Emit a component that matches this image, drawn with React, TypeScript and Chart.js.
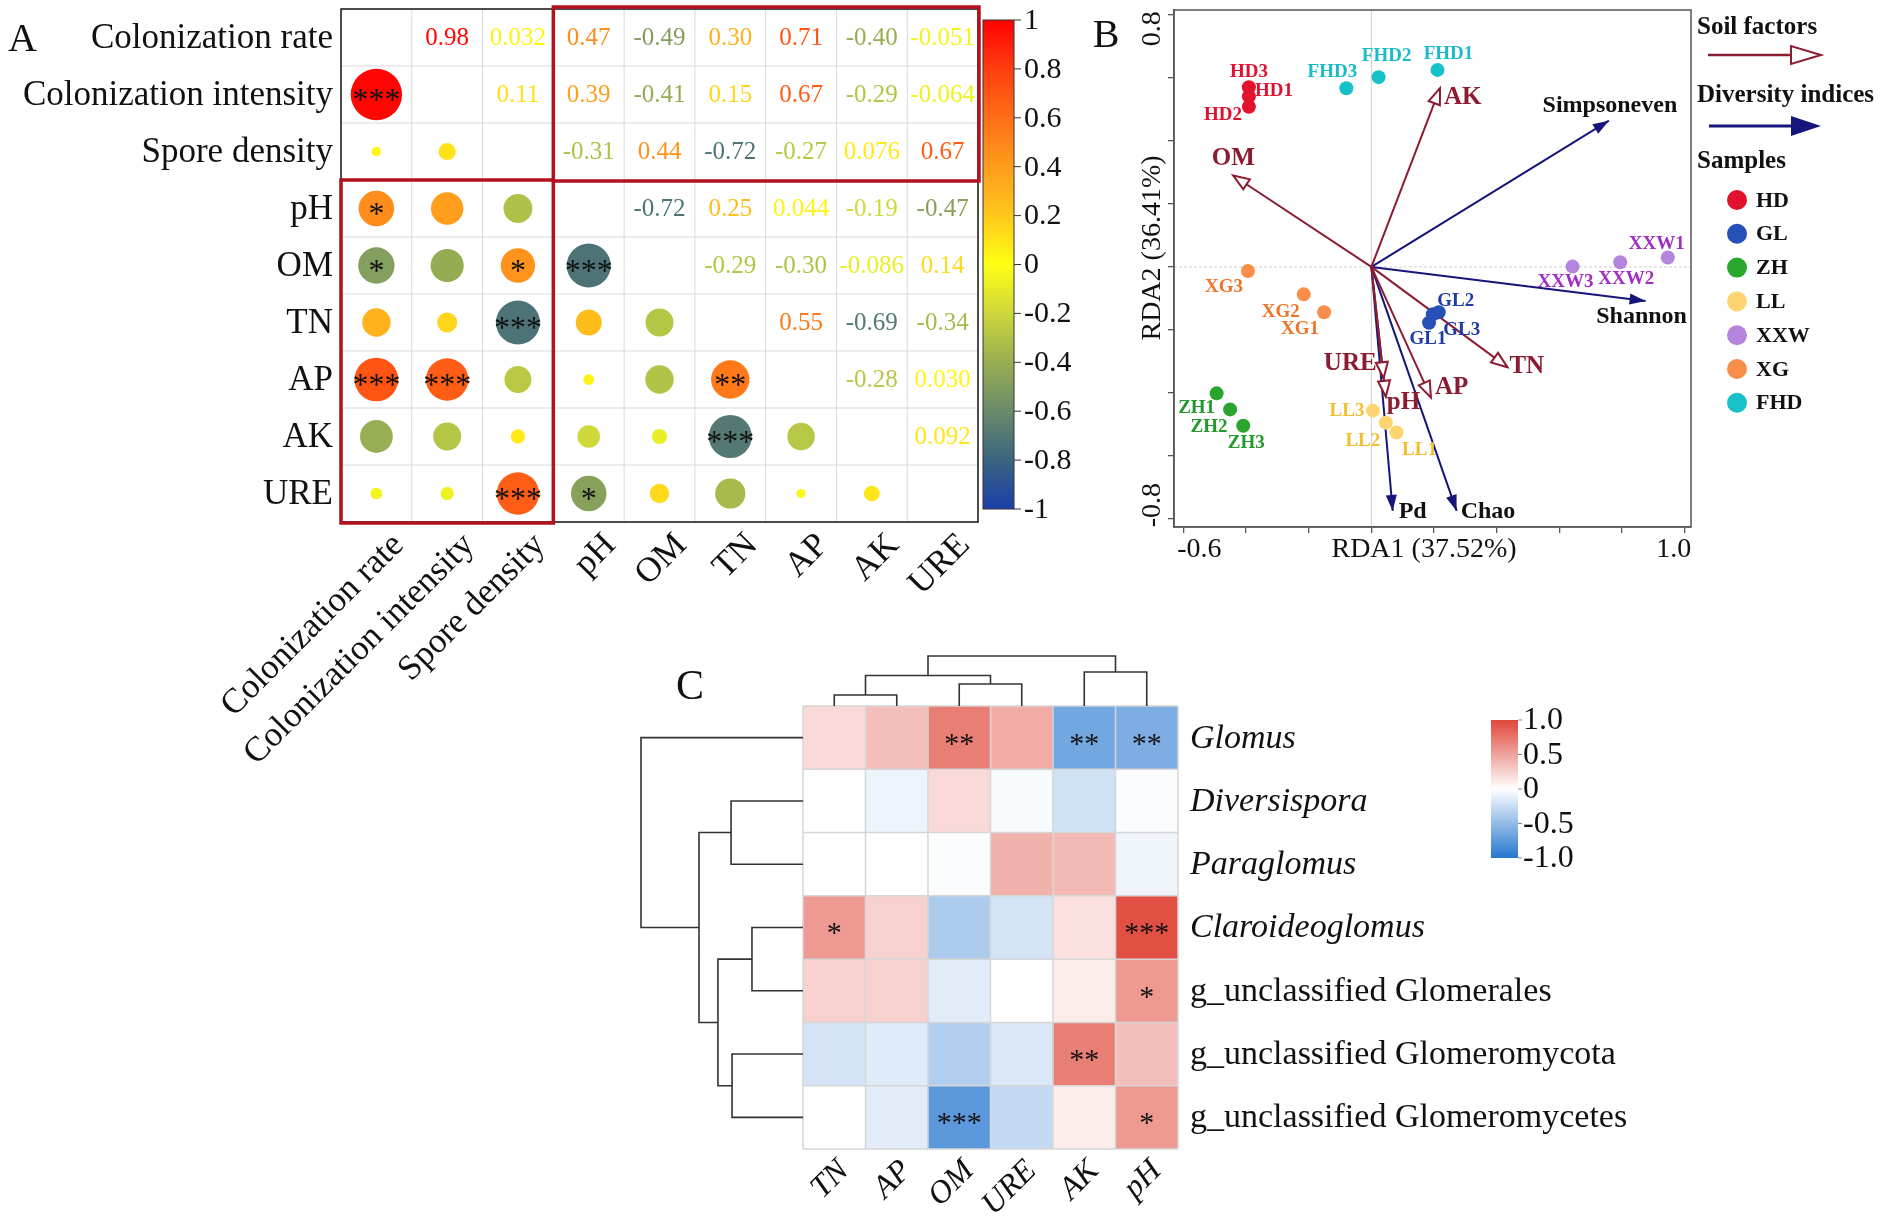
import React, { useEffect, useRef } from 'react';
import { Chart, registerables } from 'chart.js';

Chart.register(...registerables);

const PAGE_W = 1902;
const PAGE_H = 1217;
const SERIF = '"Liberation Serif", "Times New Roman", Times, serif';

/* ---------------- Panel A data ---------------- */
const corrVars = ['Colonization rate', 'Colonization intensity', 'Spore density', 'pH', 'OM', 'TN', 'AP', 'AK', 'URE'];
// upper-triangle coefficients, row i holds columns i+1 .. 8
const corrUpperLabels: string[][] = [
  ['0.98', '0.032', '0.47', '-0.49', '0.30', '0.71', '-0.40', '-0.051'],
  ['0.11', '0.39', '-0.41', '0.15', '0.67', '-0.29', '-0.064'],
  ['-0.31', '0.44', '-0.72', '-0.27', '0.076', '0.67'],
  ['-0.72', '0.25', '0.044', '-0.19', '-0.47'],
  ['-0.29', '-0.30', '-0.086', '0.14'],
  ['0.55', '-0.69', '-0.34'],
  ['-0.28', '0.030'],
  ['0.092'],
];
// significance marks in the lower triangle, row i holds columns 0 .. i-1
const corrStars: string[][] = [
  [],
  ['***'],
  ['', ''],
  ['*', '', ''],
  ['*', '', '*', '***'],
  ['', '', '***', '', ''],
  ['***', '***', '', '', '', '**'],
  ['', '', '', '', '', '***', ''],
  ['', '', '***', '*', '', '', '', ''],
];
const corrColorbarTicks = [1, 0.8, 0.6, 0.4, 0.2, 0, -0.2, -0.4, -0.6, -0.8, -1];
const corrColorbarLabels = ['1', '0.8', '0.6', '0.4', '0.2', '0', '-0.2', '-0.4', '-0.6', '-0.8', '-1'];
const corrColorStops: [number, string][] = [
  [-1, '#1a3faa'], [-0.8, '#3a6480'], [-0.6, '#6a8a6a'], [-0.4, '#98ae52'], [-0.2, '#cdd73c'],
  [0, '#ffff14'], [0.2, '#ffc81c'], [0.4, '#ff9c1c'], [0.6, '#ff6e18'], [0.8, '#ff3e10'], [1, '#ff0000'],
];

/* ---------------- Panel B data ---------------- */
const sampleGroups = ['HD', 'GL', 'ZH', 'LL', 'XXW', 'XG', 'FHD'];
const sampleNames: string[][] = [
  ['HD1', 'HD2', 'HD3'], ['GL1', 'GL2', 'GL3'], ['ZH1', 'ZH2', 'ZH3'], ['LL1', 'LL2', 'LL3'],
  ['XXW1', 'XXW2', 'XXW3'], ['XG1', 'XG2', 'XG3'], ['FHD1', 'FHD2', 'FHD3'],
];
const sampleRDA1: number[][] = [
  [-0.391, -0.391, -0.391], [0.184, 0.215, 0.196], [-0.494, -0.451, -0.409], [0.080, 0.046, 0.005],
  [0.946, 0.794, 0.642], [-0.151, -0.216, -0.394], [0.211, 0.023, -0.080],
];
const sampleRDA2: number[][] = [
  [0.541, 0.508, 0.570], [-0.177, -0.144, -0.150], [-0.401, -0.452, -0.504], [-0.525, -0.494, -0.456],
  [0.030, 0.015, 0.001], [-0.144, -0.087, -0.013], [0.625, 0.602, 0.567],
];
const soilFactors = ['OM', 'AK', 'TN', 'AP', 'pH', 'URE'];
const soilRDA1 = [-0.441, 0.219, 0.434, 0.190, 0.046, 0.039];
const soilRDA2 = [0.290, 0.567, -0.318, -0.414, -0.412, -0.353];
const diversityIndices = ['Simpsoneven', 'Shannon', 'Pd', 'Chao'];
const diversityRDA1 = [0.758, 0.875, 0.068, 0.272];
const diversityRDA2 = [0.464, -0.108, -0.774, -0.774];
const rdaXTicks = [-0.6, -0.4, -0.2, 0, 0.2, 0.4, 0.6, 0.8, 1.0];
const rdaYTicks = [-0.8, -0.6, -0.4, -0.2, 0, 0.2, 0.4, 0.6, 0.8];
const rdaXTitle = 'RDA1 (37.52%)';
const rdaYTitle = 'RDA2 (36.41%)';

/* ---------------- Panel C data ---------------- */
const heatRows = [
  'Glomus', 'Diversispora', 'Paraglomus', 'Claroideoglomus',
  'g_unclassified Glomerales', 'g_unclassified Glomeromycota', 'g_unclassified Glomeromycetes',
];
const heatRowItalic = [true, true, true, true, false, false, false];
const heatCols = ['TN', 'AP', 'OM', 'URE', 'AK', 'pH'];
const heatValues: number[][] = [
  [0.2, 0.35, 0.7, 0.45, -0.65, -0.6],
  [0.0, -0.08, 0.2, -0.03, -0.22, -0.02],
  [0.0, 0.0, -0.02, 0.42, 0.38, -0.07],
  [0.55, 0.25, -0.38, -0.2, 0.17, 0.95],
  [0.25, 0.25, -0.13, 0.0, 0.1, 0.55],
  [-0.2, -0.15, -0.35, -0.17, 0.7, 0.35],
  [0.0, -0.13, -0.75, -0.27, 0.1, 0.55],
];
const heatStars: string[][] = [
  ['', '', '**', '', '**', '**'],
  ['', '', '', '', '', ''],
  ['', '', '', '', '', ''],
  ['*', '', '', '', '', '***'],
  ['', '', '', '', '', '*'],
  ['', '', '', '', '**', ''],
  ['', '', '***', '', '', '*'],
];
// dendrogram merges: [nodeA, nodeB, height]; leaves are 0..n-1, new nodes numbered after
const heatColTree: [number, number, number][] = [
  [0, 1, 0.22], [2, 3, 0.44], [6, 7, 0.61], [4, 5, 0.68], [8, 9, 1.0],
];
const heatRowTree: [number, number, number][] = [
  [1, 2, 0.444], [3, 4, 0.315], [5, 6, 0.438], [8, 9, 0.525], [7, 10, 0.642], [0, 11, 1.0],
];
const heatColorStops: [number, string][] = [[-1, '#2677d0'], [0, '#ffffff'], [1, '#e0473a']];
const heatColorbarTicks = [1, 0.5, 0, -0.5, -1];
const heatColorbarLabels = ['1.0', '0.5', '0', '-0.5', '-1.0'];

/* ---------------- styles ---------------- */
const groupColors = ['#e3122c', '#2651b8', '#2aa52e', '#fdd470', '#b584dd', '#f98d4a', '#16c2c8'];
const groupLabelColors = ['#e01030', '#1e3ca8', '#229a2a', '#f2be2e', '#a22fc4', '#f07428', '#19bcc6'];
const SOIL_COLOR = '#8c1c32';
const DIV_COLOR = '#16167a';

const sampleLabelOffset: Record<string, [number, number]> = {
  HD1: [25, -5], HD2: [-26, 8], HD3: [0, -15],
  GL1: [-1, 16], GL2: [17, -11], GL3: [29, 16],
  ZH1: [-20, 15], ZH2: [-21, 18], ZH3: [3, 17],
  LL1: [23, 18], LL2: [-23, 18], LL3: [-26, 0],
  XXW1: [-11, -13], XXW2: [6, 17], XXW3: [-7, 15],
  XG1: [-24, 17], XG2: [-23, 18], XG3: [-24, 16],
  FHD1: [11, -16], FHD2: [8, -21], FHD3: [-14, -16],
};
const soilLabelOffset: [number, number, CanvasTextAlign][] = [
  [0, -17, 'center'], [4, 9, 'left'], [2, -1, 'left'], [4, -10, 'left'], [1, 6, 'left'], [-7, -15, 'right'],
];
const divLabelOffset: [number, number, CanvasTextAlign][] = [
  [1, -15, 'center'], [-4, 16, 'center'], [6, 1, 'left'], [4, 1, 'left'],
];

/* ---------------- helpers ---------------- */
function hexRgb(h: string): number[] {
  const n = parseInt(h.slice(1), 16);
  return [(n >> 16) & 255, (n >> 8) & 255, n & 255];
}
function mix(stops: [number, string][], v: number): string {
  const c = Math.max(stops[0][0], Math.min(stops[stops.length - 1][0], v));
  for (let i = 0; i < stops.length - 1; i++) {
    const [a, ca] = stops[i];
    const [b, cb] = stops[i + 1];
    if (c <= b) {
      const t = (c - a) / (b - a);
      const A = hexRgb(ca);
      const B = hexRgb(cb);
      return `rgb(${Math.round(A[0] + (B[0] - A[0]) * t)},${Math.round(A[1] + (B[1] - A[1]) * t)},${Math.round(A[2] + (B[2] - A[2]) * t)})`;
    }
  }
  return stops[stops.length - 1][1];
}
function corrValue(a: number, b: number): number {
  const i = Math.min(a, b);
  const j = Math.max(a, b);
  return parseFloat(corrUpperLabels[i][j - i - 1]);
}
function arrowHead(ctx: CanvasRenderingContext2D, x0: number, y0: number, x1: number, y1: number,
  len: number, half: number, fill: string, stroke: string | null) {
  const a = Math.atan2(y1 - y0, x1 - x0);
  const bx = x1 - len * Math.cos(a);
  const by = y1 - len * Math.sin(a);
  const px = -Math.sin(a) * half;
  const py = Math.cos(a) * half;
  ctx.beginPath();
  ctx.moveTo(x1, y1);
  ctx.lineTo(bx + px, by + py);
  ctx.lineTo(bx - px, by - py);
  ctx.closePath();
  ctx.fillStyle = fill;
  ctx.fill();
  if (stroke) {
    ctx.strokeStyle = stroke;
    ctx.lineWidth = 2;
    ctx.lineJoin = 'miter';
    ctx.stroke();
  }
}
function rotatedText(ctx: CanvasRenderingContext2D, text: string, x: number, y: number, angle: number,
  align: CanvasTextAlign) {
  ctx.save();
  ctx.translate(x, y);
  ctx.rotate(angle);
  ctx.textAlign = align;
  ctx.textBaseline = 'middle';
  ctx.fillText(text, 0, 0);
  ctx.restore();
}
function drawTree(ctx: CanvasRenderingContext2D, merges: [number, number, number][], leafPos: number[],
  base: number, span: number, vertical: boolean) {
  const pos = leafPos.slice();
  const hgt = leafPos.map(() => 0);
  ctx.beginPath();
  merges.forEach(([a, b, h]) => {
    const pa = pos[a], pb = pos[b], ha = hgt[a], hb = hgt[b];
    if (vertical) {
      ctx.moveTo(pa, base - ha * span);
      ctx.lineTo(pa, base - h * span);
      ctx.lineTo(pb, base - h * span);
      ctx.lineTo(pb, base - hb * span);
    } else {
      ctx.moveTo(base - ha * span, pa);
      ctx.lineTo(base - h * span, pa);
      ctx.lineTo(base - h * span, pb);
      ctx.lineTo(base - hb * span, pb);
    }
    pos.push((pa + pb) / 2);
    hgt.push(h);
  });
  ctx.stroke();
}

const common: any = {
  responsive: false,
  maintainAspectRatio: false,
  animation: false,
  devicePixelRatio: 1,
  events: [],
  plugins: { legend: { display: false }, tooltip: { enabled: false } },
};

/* ---------------- Panel A ---------------- */
const panelAPlugin = {
  id: 'panelA',
  beforeDatasetsDraw(chart: any) {
    const { ctx, chartArea: ca } = chart;
    const xs = chart.scales.x;
    const ys = chart.scales.y;
    const n = corrVars.length;
    ctx.save();
    ctx.strokeStyle = '#d9d9d9';
    ctx.lineWidth = 1;
    ctx.beginPath();
    for (let k = 1; k < n; k++) {
      const px = xs.getPixelForValue(k - 0.5);
      ctx.moveTo(px, ca.top);
      ctx.lineTo(px, ca.bottom);
      const py = ys.getPixelForValue(k - 0.5);
      ctx.moveTo(ca.left, py);
      ctx.lineTo(ca.right, py);
    }
    ctx.stroke();
    ctx.restore();
  },
  afterDatasetsDraw(chart: any) {
    const { ctx, chartArea: ca } = chart;
    const xs = chart.scales.x;
    const ys = chart.scales.y;
    const n = corrVars.length;
    const ex = (k: number) => xs.getPixelForValue(k - 0.5);
    const ey = (k: number) => ys.getPixelForValue(k - 0.5);
    ctx.save();
    ctx.textAlign = 'center';
    ctx.textBaseline = 'middle';
    // significance stars
    ctx.fillStyle = '#111';
    ctx.font = `32px ${SERIF}`;
    for (let i = 1; i < n; i++) {
      for (let j = 0; j < i; j++) {
        const s = corrStars[i][j];
        if (s) ctx.fillText(s, xs.getPixelForValue(j), ys.getPixelForValue(i) + 7);
      }
    }
    // coefficients
    ctx.font = `25px ${SERIF}`;
    for (let i = 0; i < n; i++) {
      for (let j = i + 1; j < n; j++) {
        const lab = corrUpperLabels[i][j - i - 1];
        ctx.fillStyle = mix(corrColorStops, parseFloat(lab));
        ctx.fillText(lab, xs.getPixelForValue(j), ys.getPixelForValue(i) + 1);
      }
    }
    // frame
    ctx.strokeStyle = '#111';
    ctx.lineWidth = 1.5;
    ctx.strokeRect(ca.left, ca.top, ca.right - ca.left, ca.bottom - ca.top);
    // red blocks
    ctx.strokeStyle = '#b2121d';
    ctx.lineWidth = 3.5;
    ctx.strokeRect(ex(3), ey(0) - 2, ex(n) - ex(3) + 1, ey(3) - ey(0) + 3);
    ctx.strokeRect(ex(0), ey(3), ex(3) - ex(0), ey(n) - ey(3) + 1);
    // row labels
    ctx.fillStyle = '#111';
    ctx.font = `35px ${SERIF}`;
    ctx.textAlign = 'right';
    corrVars.forEach((v, i) => ctx.fillText(v, ca.left - 8, ys.getPixelForValue(i) + 1));
    // column labels
    corrVars.forEach((v, j) => rotatedText(ctx, v, xs.getPixelForValue(j) + 22, ca.bottom + 18, -Math.PI / 4, 'right'));
    // colorbar
    const cbL = ca.right + 5;
    const cbR = cbL + 31;
    const cbT = ca.top + 11;
    const cbB = ca.bottom - 13;
    const py = (v: number) => cbB - ((v + 1) / 2) * (cbB - cbT);
    const g = ctx.createLinearGradient(0, cbB, 0, cbT);
    corrColorStops.forEach(([v, c]) => g.addColorStop((v + 1) / 2, c));
    ctx.fillStyle = g;
    ctx.fillRect(cbL, cbT, cbR - cbL, cbB - cbT);
    ctx.strokeStyle = '#333';
    ctx.lineWidth = 1;
    ctx.strokeRect(cbL, cbT, cbR - cbL, cbB - cbT);
    ctx.beginPath();
    corrColorbarTicks.forEach((v) => {
      ctx.moveTo(cbR, py(v));
      ctx.lineTo(cbR + 7, py(v));
    });
    ctx.stroke();
    ctx.fillStyle = '#111';
    ctx.font = `30px ${SERIF}`;
    ctx.textAlign = 'left';
    corrColorbarTicks.forEach((v, k) => ctx.fillText(corrColorbarLabels[k], cbR + 10, py(v) + 1));
    // panel letter
    ctx.font = `40px ${SERIF}`;
    ctx.fillText('A', 8, ca.top + 31);
    ctx.restore();
  },
};

function makeA(canvas: HTMLCanvasElement) {
  const pts: any[] = [];
  for (let i = 1; i < corrVars.length; i++) {
    for (let j = 0; j < i; j++) pts.push({ x: j, y: i, v: corrValue(i, j) });
  }
  return new Chart(canvas, {
    type: 'scatter',
    data: {
      datasets: [{
        data: pts,
        pointStyle: 'circle',
        borderWidth: 0,
        backgroundColor: (c: any) => (c.raw ? mix(corrColorStops, c.raw.v) : '#000'),
        pointRadius: (c: any) => {
          if (!c.raw) return 0;
          const ys = c.chart.scales.y;
          const cell = Math.abs(ys.getPixelForValue(1) - ys.getPixelForValue(0));
          return 0.455 * cell * Math.sqrt(Math.abs(c.raw.v));
        },
      }],
    },
    options: {
      ...common,
      layout: { padding: { left: 341, right: PAGE_W - 978, top: 9, bottom: PAGE_H - 522 } },
      scales: {
        x: { type: 'linear', display: false, min: -0.5, max: corrVars.length - 0.5 },
        y: { type: 'linear', display: false, min: -0.5, max: corrVars.length - 0.5, reverse: true },
      },
    },
    plugins: [panelAPlugin],
  } as any);
}

/* ---------------- Panel B ---------------- */
const panelBPlugin = {
  id: 'panelB',
  beforeDatasetsDraw(chart: any) {
    const { ctx, chartArea: ca } = chart;
    const xs = chart.scales.x;
    const ys = chart.scales.y;
    ctx.save();
    ctx.strokeStyle = '#cfcfcf';
    ctx.lineWidth = 1;
    const x0 = xs.getPixelForValue(0);
    ctx.beginPath();
    ctx.moveTo(x0, ca.top);
    ctx.lineTo(x0, ca.bottom);
    ctx.stroke();
    ctx.setLineDash([3, 2]);
    const y0 = ys.getPixelForValue(0);
    ctx.beginPath();
    ctx.moveTo(ca.left, y0);
    ctx.lineTo(ca.right, y0);
    ctx.stroke();
    ctx.restore();
  },
  afterDatasetsDraw(chart: any) {
    const { ctx } = chart;
    ctx.save();
    chart.data.datasets.forEach((ds: any, i: number) => {
      const meta = chart.getDatasetMeta(i);
      if (ds.arrowKind) {
        const p0 = meta.data[0];
        const p1 = meta.data[1];
        if (ds.arrowKind === 'soil') {
          arrowHead(ctx, p0.x, p0.y, p1.x, p1.y, 16, 6, '#ffffff', SOIL_COLOR);
          const [dx, dy, al] = soilLabelOffset[ds.idx];
          ctx.fillStyle = SOIL_COLOR;
          ctx.font = `bold 25px ${SERIF}`;
          ctx.textAlign = al;
          ctx.textBaseline = 'middle';
          ctx.fillText(ds.label, p1.x + dx, p1.y + dy);
        } else {
          arrowHead(ctx, p0.x, p0.y, p1.x, p1.y, 16, 5.5, DIV_COLOR, null);
          const [dx, dy, al] = divLabelOffset[ds.idx];
          ctx.fillStyle = '#111';
          ctx.font = `bold 24px ${SERIF}`;
          ctx.textAlign = al;
          ctx.textBaseline = 'middle';
          ctx.fillText(ds.label, p1.x + dx, p1.y + dy);
        }
      } else {
        ctx.fillStyle = groupLabelColors[ds.idx];
        ctx.font = `bold 19px ${SERIF}`;
        ctx.textAlign = 'center';
        ctx.textBaseline = 'middle';
        meta.data.forEach((el: any, k: number) => {
          const name = sampleNames[ds.idx][k];
          const off = sampleLabelOffset[name] || [0, -15];
          ctx.fillText(name, el.x + off[0], el.y + off[1]);
        });
      }
    });
    ctx.restore();
  },
  afterDraw(chart: any) {
    const { ctx, chartArea: ca } = chart;
    const xs = chart.scales.x;
    const ys = chart.scales.y;
    ctx.save();
    ctx.strokeStyle = '#555';
    ctx.lineWidth = 1.5;
    ctx.strokeRect(ca.left, ca.top, ca.right - ca.left, ca.bottom - ca.top);
    ctx.fillStyle = '#111';
    ctx.font = `28px ${SERIF}`;
    ctx.textBaseline = 'middle';
    ctx.textAlign = 'center';
    // axis tick labels (end ticks only, nudged inside like the source)
    ctx.fillText('-0.6', xs.getPixelForValue(rdaXTicks[0]) + 16, ca.bottom + 23);
    ctx.fillText('1.0', xs.getPixelForValue(rdaXTicks[rdaXTicks.length - 1]) - 11, ca.bottom + 23);
    ctx.fillText(rdaXTitle, 1424, ca.bottom + 23);
    rotatedText(ctx, '0.8', ca.left - 21, ys.getPixelForValue(rdaYTicks[rdaYTicks.length - 1]) + 14, -Math.PI / 2, 'center');
    rotatedText(ctx, '-0.8', ca.left - 21, ys.getPixelForValue(rdaYTicks[0]) - 14, -Math.PI / 2, 'center');
    rotatedText(ctx, rdaYTitle, ca.left - 21, 248, -Math.PI / 2, 'center');
    // panel letter
    ctx.font = `40px ${SERIF}`;
    ctx.textAlign = 'center';
    ctx.fillText('B', 1106, 36);
    // legend
    const lx = ca.right + 6;
    ctx.font = `bold 25px ${SERIF}`;
    ctx.textAlign = 'left';
    ctx.fillText('Soil factors', lx, 28);
    ctx.strokeStyle = SOIL_COLOR;
    ctx.lineWidth = 2.5;
    ctx.beginPath();
    ctx.moveTo(lx + 11, 55);
    ctx.lineTo(lx + 96, 55);
    ctx.stroke();
    arrowHead(ctx, lx + 11, 55, lx + 124, 55, 30, 9, '#ffffff', SOIL_COLOR);
    ctx.fillStyle = '#111';
    ctx.font = `bold 25px ${SERIF}`;
    ctx.fillText('Diversity indices', lx, 96);
    ctx.strokeStyle = DIV_COLOR;
    ctx.lineWidth = 3;
    ctx.beginPath();
    ctx.moveTo(lx + 12, 126);
    ctx.lineTo(lx + 100, 126);
    ctx.stroke();
    arrowHead(ctx, lx + 12, 126, lx + 124, 126, 30, 10, DIV_COLOR, null);
    ctx.fillStyle = '#111';
    ctx.fillText('Samples', lx, 162);
    ctx.font = `bold 22px ${SERIF}`;
    sampleGroups.forEach((g, k) => {
      const yy = 200 + k * 33.8;
      ctx.fillStyle = groupColors[k];
      ctx.beginPath();
      ctx.arc(lx + 40, yy, 10, 0, Math.PI * 2);
      ctx.fill();
      ctx.fillStyle = '#111';
      ctx.fillText(g, lx + 59, yy + 1);
    });
    ctx.restore();
  },
};

function makeB(canvas: HTMLCanvasElement) {
  const datasets: any[] = [];
  sampleGroups.forEach((g, gi) => {
    datasets.push({
      label: g,
      idx: gi,
      data: sampleNames[gi].map((_, k) => ({ x: sampleRDA1[gi][k], y: sampleRDA2[gi][k] })),
      backgroundColor: groupColors[gi],
      borderWidth: 0,
      pointRadius: 7,
    });
  });
  soilFactors.forEach((f, k) => {
    datasets.push({
      label: f,
      idx: k,
      arrowKind: 'soil',
      data: [{ x: 0, y: 0 }, { x: soilRDA1[k], y: soilRDA2[k] }],
      showLine: true,
      borderColor: SOIL_COLOR,
      borderWidth: 2,
      pointRadius: 0,
    });
  });
  diversityIndices.forEach((f, k) => {
    datasets.push({
      label: f,
      idx: k,
      arrowKind: 'div',
      data: [{ x: 0, y: 0 }, { x: diversityRDA1[k], y: diversityRDA2[k] }],
      showLine: true,
      borderColor: DIV_COLOR,
      borderWidth: 2,
      pointRadius: 0,
    });
  });
  const axisCommon = {
    type: 'linear',
    ticks: { display: false },
    grid: { drawOnChartArea: false, drawTicks: true, tickLength: 6, tickColor: '#555', lineWidth: 1.3 },
    border: { display: true, color: '#555', width: 1.5 },
  };
  return new Chart(canvas, {
    type: 'scatter',
    data: { datasets },
    options: {
      ...common,
      clip: false,
      layout: { padding: { left: 1174 - 8, right: PAGE_W - 1691, top: 10, bottom: PAGE_H - 527 - 8 } },
      scales: {
        x: {
          ...axisCommon,
          min: -0.63,
          max: 1.02,
          afterBuildTicks: (ax: any) => { ax.ticks = rdaXTicks.map((v) => ({ value: v })); },
          afterFit: (ax: any) => { ax.height = 8; },
        },
        y: {
          ...axisCommon,
          min: -0.825,
          max: 0.815,
          afterBuildTicks: (ax: any) => { ax.ticks = rdaYTicks.map((v) => ({ value: v })); },
          afterFit: (ax: any) => { ax.width = 8; },
        },
      },
    },
    plugins: [panelBPlugin],
  } as any);
}

/* ---------------- Panel C ---------------- */
const panelCPlugin = {
  id: 'panelC',
  afterDatasetsDraw(chart: any) {
    const { ctx, chartArea: ca } = chart;
    const xs = chart.scales.x;
    const ys = chart.scales.y;
    ctx.save();
    ctx.strokeStyle = '#d6d6d6';
    ctx.lineWidth = 1.5;
    ctx.beginPath();
    for (let k = 0; k <= heatCols.length; k++) {
      const px = xs.getPixelForValue(k - 0.5);
      ctx.moveTo(px, ca.top);
      ctx.lineTo(px, ca.bottom);
    }
    for (let k = 0; k <= heatRows.length; k++) {
      const py = ys.getPixelForValue(k - 0.5);
      ctx.moveTo(ca.left, py);
      ctx.lineTo(ca.right, py);
    }
    ctx.stroke();
    ctx.fillStyle = '#111';
    ctx.font = `30px ${SERIF}`;
    ctx.textAlign = 'center';
    ctx.textBaseline = 'middle';
    heatStars.forEach((row, i) => row.forEach((s, j) => {
      if (s) ctx.fillText(s, xs.getPixelForValue(j), ys.getPixelForValue(i) + 7);
    }));
    ctx.restore();
  },
  afterDraw(chart: any) {
    const { ctx, chartArea: ca } = chart;
    const xs = chart.scales.x;
    const ys = chart.scales.y;
    ctx.save();
    // dendrograms
    ctx.strokeStyle = '#333';
    ctx.lineWidth = 1.6;
    drawTree(ctx, heatColTree, heatCols.map((_, j) => xs.getPixelForValue(j)), ca.top, 50, true);
    drawTree(ctx, heatRowTree, heatRows.map((_, i) => ys.getPixelForValue(i)), ca.left, 162, false);
    // row labels
    ctx.fillStyle = '#111';
    ctx.textAlign = 'left';
    ctx.textBaseline = 'middle';
    heatRows.forEach((r, i) => {
      ctx.font = `${heatRowItalic[i] ? 'italic ' : ''}34px ${SERIF}`;
      ctx.fillText(r, ca.right + 12, ys.getPixelForValue(i) + 1);
    });
    // column labels
    ctx.font = `italic 32px ${SERIF}`;
    heatCols.forEach((c, j) => rotatedText(ctx, c, xs.getPixelForValue(j) + 10, ca.bottom + 17, -Math.PI / 4, 'right'));
    // colorbar
    const cbL = ca.right + 313;
    const cbR = cbL + 27;
    const cbT = ca.top + 14;
    const cbB = cbT + 138;
    const py = (v: number) => cbB - ((v + 1) / 2) * (cbB - cbT);
    const g = ctx.createLinearGradient(0, cbB, 0, cbT);
    for (let k = 0; k <= 20; k++) {
      const v = -1 + k / 10;
      g.addColorStop(k / 20, mix(heatColorStops, v));
    }
    ctx.fillStyle = g;
    ctx.fillRect(cbL, cbT, cbR - cbL, cbB - cbT);
    ctx.strokeStyle = '#888';
    ctx.lineWidth = 1;
    ctx.beginPath();
    heatColorbarTicks.forEach((v) => {
      ctx.moveTo(cbR, py(v));
      ctx.lineTo(cbR + 4, py(v));
    });
    ctx.stroke();
    ctx.fillStyle = '#111';
    ctx.font = `32px ${SERIF}`;
    ctx.textAlign = 'left';
    heatColorbarTicks.forEach((v, k) => ctx.fillText(heatColorbarLabels[k], cbR + 5, py(v) + 1));
    // panel letter
    ctx.font = `42px ${SERIF}`;
    ctx.textAlign = 'center';
    ctx.fillText('C', 690, 688);
    ctx.restore();
  },
};

function makeC(canvas: HTMLCanvasElement) {
  const pts: any[] = [];
  heatValues.forEach((row, i) => row.forEach((v, j) => pts.push({ x: j, y: i, v })));
  return new Chart(canvas, {
    type: 'scatter',
    data: {
      datasets: [{
        data: pts,
        pointStyle: 'rect',
        borderWidth: 0,
        backgroundColor: (c: any) => (c.raw ? mix(heatColorStops, c.raw.v) : '#fff'),
        pointRadius: (c: any) => {
          const xs = c.chart.scales.x;
          const ys = c.chart.scales.y;
          const w = Math.abs(xs.getPixelForValue(1) - xs.getPixelForValue(0));
          const h = Math.abs(ys.getPixelForValue(1) - ys.getPixelForValue(0));
          return (Math.max(w, h) / 2) * Math.SQRT2;
        },
      }],
    },
    options: {
      ...common,
      layout: { padding: { left: 803, right: PAGE_W - 1178, top: 706, bottom: PAGE_H - 1149 } },
      scales: {
        x: { type: 'linear', display: false, min: -0.5, max: heatCols.length - 0.5 },
        y: { type: 'linear', display: false, min: -0.5, max: heatRows.length - 0.5, reverse: true },
      },
    },
    plugins: [panelCPlugin],
  } as any);
}

export default function App() {
  const refA = useRef<HTMLCanvasElement>(null);
  const refB = useRef<HTMLCanvasElement>(null);
  const refC = useRef<HTMLCanvasElement>(null);
  useEffect(() => {
    const charts = [makeA(refA.current!), makeB(refB.current!), makeC(refC.current!)];
    return () => charts.forEach((c) => c.destroy());
  }, []);
  const cs: React.CSSProperties = { position: 'absolute', left: 0, top: 0, width: PAGE_W, height: PAGE_H };
  return (
    <div style={{ position: 'absolute', left: 0, top: 0, width: PAGE_W, height: PAGE_H, background: '#ffffff', overflow: 'hidden' }}>
      <canvas ref={refA} width={PAGE_W} height={PAGE_H} style={cs} />
      <canvas ref={refB} width={PAGE_W} height={PAGE_H} style={cs} />
      <canvas ref={refC} width={PAGE_W} height={PAGE_H} style={cs} />
    </div>
  );
}
